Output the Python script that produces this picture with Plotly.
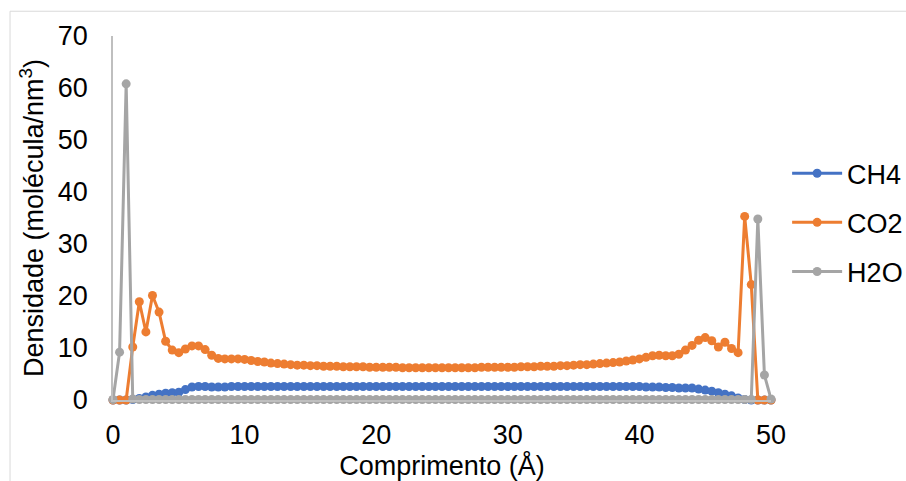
import plotly.graph_objects as go

# x positions (Å), 0 to 50 in steps of 0.5
x_vals = [i * 0.5 for i in range(101)]

ch4 = [
    0, 0, 0, 0.1, 0.3, 0.6, 0.9, 1.1, 1.3, 1.4,
    1.5, 2.0, 2.5, 2.6, 2.6, 2.5, 2.5, 2.5, 2.6, 2.6,
    2.6, 2.6, 2.6, 2.6, 2.6, 2.6, 2.6, 2.6, 2.6, 2.6,
    2.6, 2.6, 2.6, 2.6, 2.6, 2.6, 2.6, 2.6, 2.6, 2.6,
    2.6, 2.6, 2.6, 2.6, 2.6, 2.6, 2.6, 2.6, 2.6, 2.6,
    2.6, 2.6, 2.6, 2.6, 2.6, 2.6, 2.6, 2.6, 2.6, 2.6,
    2.6, 2.6, 2.6, 2.6, 2.6, 2.6, 2.6, 2.6, 2.6, 2.6,
    2.6, 2.6, 2.6, 2.6, 2.6, 2.6, 2.6, 2.6, 2.6, 2.6,
    2.6, 2.5, 2.5, 2.5, 2.4, 2.4, 2.3, 2.3, 2.3, 2.1,
    1.9, 1.7, 1.4, 1.1, 0.8, 0.4, 0.1, 0, 0, 0,
    0,
]

co2 = [
    0, 0, 0, 10.2, 18.9, 13.1, 20.1, 16.9, 11.3, 9.6,
    9.1, 9.8, 10.4, 10.4, 9.7, 8.6, 8.0, 7.9, 7.9, 7.9,
    7.8, 7.6, 7.4, 7.3, 7.1, 7.0, 6.9, 6.8, 6.7, 6.7,
    6.6, 6.6, 6.5, 6.5, 6.5, 6.4, 6.4, 6.4, 6.4, 6.3,
    6.3, 6.3, 6.3, 6.3, 6.2, 6.2, 6.2, 6.2, 6.2, 6.2,
    6.2, 6.2, 6.2, 6.2, 6.2, 6.2, 6.3, 6.3, 6.3, 6.3,
    6.3, 6.3, 6.4, 6.4, 6.4, 6.5, 6.5, 6.5, 6.6, 6.6,
    6.7, 6.8, 6.8, 6.9, 7.0, 7.1, 7.2, 7.3, 7.5, 7.7,
    7.9, 8.2, 8.5, 8.6, 8.5, 8.5, 8.8, 9.6, 10.5, 11.5,
    12.0, 11.4, 10.2, 11.1, 9.9, 9.1, 35.3, 22.2, 0, 0,
    0,
]

h2o = [
    0.1, 9.2, 60.8, 0.2, 0.1, 0.1, 0.1, 0.1, 0.1, 0.1,
    0.1, 0.1, 0.1, 0.1, 0.1, 0.1, 0.1, 0.1, 0.1, 0.1,
    0.1, 0.1, 0.1, 0.1, 0.1, 0.1, 0.1, 0.1, 0.1, 0.1,
    0.1, 0.1, 0.1, 0.1, 0.1, 0.1, 0.1, 0.1, 0.1, 0.1,
    0.1, 0.1, 0.1, 0.1, 0.1, 0.1, 0.1, 0.1, 0.1, 0.1,
    0.1, 0.1, 0.1, 0.1, 0.1, 0.1, 0.1, 0.1, 0.1, 0.1,
    0.1, 0.1, 0.1, 0.1, 0.1, 0.1, 0.1, 0.1, 0.1, 0.1,
    0.1, 0.1, 0.1, 0.1, 0.1, 0.1, 0.1, 0.1, 0.1, 0.1,
    0.1, 0.1, 0.1, 0.1, 0.1, 0.1, 0.1, 0.1, 0.1, 0.1,
    0.1, 0.1, 0.1, 0.1, 0.1, 0.1, 0.1, 0.1, 34.8, 4.8,
    0.2,
]

series_names = ["CH4", "CO2", "H2O"]
series_colors = ["#4472C4", "#ED7D31", "#A5A5A5"]
x_ticks = [0, 10, 20, 30, 40, 50]
y_ticks = [0, 10, 20, 30, 40, 50, 60, 70]

FONT = "Liberation Sans, Arial, sans-serif"

fig = go.Figure()
for name, vals, col in zip(series_names, [ch4, co2, h2o], series_colors):
    fig.add_trace(go.Scatter(
        x=x_vals, y=vals, name=name, mode="lines+markers",
        line=dict(color=col, width=3),
        marker=dict(color=col, size=9),
        legendgroup=name, cliponaxis=False,
    ))

fig.update_layout(
    width=906, height=481,
    margin=dict(l=113, r=135, t=36, b=81, autoexpand=False),
    paper_bgcolor="white", plot_bgcolor="white",
    font=dict(family=FONT, size=27, color="#000000"),
    showlegend=True,
    legend=dict(
        x=1.0245, y=0.689, xanchor="left", yanchor="top",
        font=dict(family=FONT, size=27, color="#000000"),
        tracegroupgap=11, itemwidth=50,
        bgcolor="rgba(0,0,0,0)",
    ),
    xaxis=dict(
        range=[0, 50], tickvals=x_ticks, showgrid=False, zeroline=False,
        showline=True, linecolor="#BFBFBF", linewidth=1.5,
        ticks="", ticklabelstandoff=10, automargin=True,
        tickfont=dict(family=FONT, size=27, color="#000000"),
        title=dict(text="Comprimento (Å)", standoff=4,
                   font=dict(family=FONT, size=27, color="#000000")),
    ),
    yaxis=dict(
        range=[0, 70], tickvals=y_ticks, showgrid=False, zeroline=False,
        showline=True, linecolor="#BFBFBF", linewidth=1.5,
        ticks="", ticklabelstandoff=18, automargin=True,
        tickfont=dict(family=FONT, size=27, color="#000000"),
        title=dict(text="Densidade (molécula/nm<sup>3</sup>)", standoff=6,
                   font=dict(family=FONT, size=27, color="#000000")),
    ),
    shapes=[dict(
        type="rect", xref="paper", yref="paper",
        x0=-0.1565, x1=2.0, y0=-1.0, y1=1.068,
        line=dict(color="#D9D9D9", width=1), fillcolor="rgba(0,0,0,0)",
        layer="below",
    )],
)

fig.write_html(
    "out.html",
    config={"displayModeBar": False},
    post_script="document.body.style.margin='0';document.body.style.overflow='hidden';",
)
